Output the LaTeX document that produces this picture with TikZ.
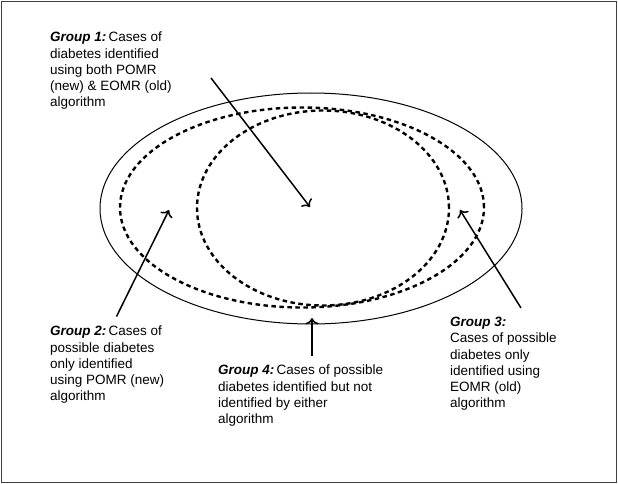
\documentclass[tikz,border=0pt]{standalone}
\usepackage{fontspec}
\setmainfont{Liberation Sans}
\usepackage{tikz}
\usetikzlibrary{arrows.meta}

\begin{document}
\begin{tikzpicture}[x=1pt,y=-1pt,
		grouptext/.style={anchor=north west,inner sep=0pt,align=left,
			font=\fontsize{13.5}{16.2}\selectfont},
		dotline/.style={line width=2.4pt,dash pattern=on 4.5pt off 3.5pt},
		pointer/.style={line width=1.5pt,-{To[scale=1.3]}}]
			
			% Frame
			\useasboundingbox (0,0) rectangle (618,484);
			\draw[line width=1.3pt,black!75] (1.5,1.5) rectangle (616.5,482.5);
			
			% Ellipses
			\draw[line width=1pt] (311,208.5) ellipse [x radius=211pt, y radius=115.5pt];
			\draw[dotline] (302,207.5) ellipse [x radius=182pt, y radius=100pt];
			\draw[dotline] (323,208) ellipse [x radius=126pt, y radius=97.5pt];
			
			% Labels
			\node[grouptext] (g1) at (50,32) {\textbf{\textit{Group 1:}}\,Cases of\\diabetes identified\\using both POMR\\(new) \& EOMR (old)\\algorithm};
			\node[grouptext] (g2) at (50,326) {\textbf{\textit{Group 2:}}\,Cases of\\possible diabetes\\only identified\\using POMR (new)\\algorithm};
			\node[grouptext] (g3) at (450,317) {\textbf{\textit{Group 3:}}\\Cases of possible\\diabetes only\\identified using\\EOMR (old)\\algorithm};
			\node[grouptext] (g4) at (218,365) {\textbf{\textit{Group 4:}}\,Cases of possible\\diabetes identified but not\\identified by either\\algorithm};
			
			% Arrow ends
			\coordinate (a1) at (211,78);
			\coordinate (b1) at (310,207);
			\coordinate (a2) at (116.5,316.5);
			\coordinate (b2) at (169,210);
			\coordinate (a3) at (521,308);
			\coordinate (b3) at (460,210);
			\coordinate (a4) at (312,356);
			\coordinate (b4) at (312,318);
			
			% Arrows
			\draw[pointer] (a1) -- (b1);
			\draw[pointer] (a2) -- (b2);
			\draw[pointer] (a3) -- (b3);
			\draw[pointer] (a4) -- (b4);
			
		\end{tikzpicture}
\end{document}
